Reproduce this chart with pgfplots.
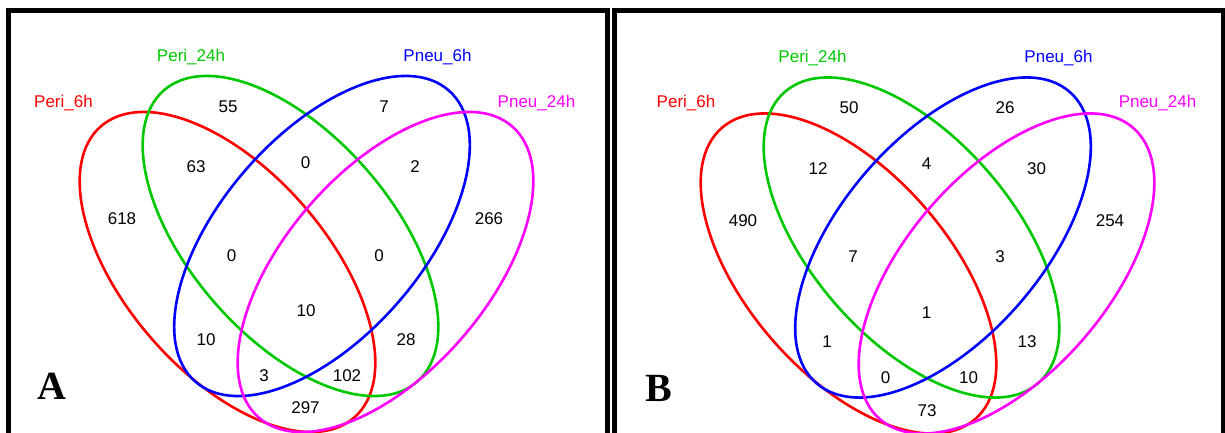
\documentclass[border=0pt]{standalone}
\usepackage{pgfplots}
\pgfplotsset{compat=1.18}
\usepackage{pgfplotstable}
\usepackage{fontspec}
\setmainfont{Liberation Sans}
\newfontfamily\panelfont{Liberation Serif}

\definecolor{setred}{RGB}{255,0,0}
\definecolor{setgreen}{RGB}{0,200,0}
\definecolor{setblue}{RGB}{0,0,255}
\definecolor{setmagenta}{RGB}{255,0,255}

% Region counts of panel A: label position (x, y from the top) and count
\pgfplotstableread{
x     y      n
122   219    618
228   107    55
384   107    7
489   219    266
196   167    63
305.5 163    0
415   167    2
231.5 256    0
379   256    0
306   311    10
206   339.5  10
406   339.5  28
264   376    3
347   376    102
305.5 407.5  297
}\countsA

% Region counts of panel B
\pgfplotstableread{
x     y      n
743   220.5  490
849   108    50
1005  108    26
1110  220.5  254
818   169    12
926.5 164    4
1036.5 169   30
853   257    7
1000  257    3
926.5 313    1
827   341.5  1
1027  341.5  13
885.5 378    0
968.5 378    10
927   410.5  73
}\countsB

% one set: centre x, centre y, rotation, colour
\newcommand\vennset[4]{%
  \draw[#4, line width=2.6pt, rotate around={#3:(axis cs:#1,#2)}]
    (axis cs:#1,#2) ellipse[x radius=193pt, y radius=101pt];}

\begin{document}
\begin{tikzpicture}
\useasboundingbox (0,0) rectangle (1225pt,433pt);
\begin{axis}[
  width=1225pt, height=433pt, scale only axis,
  xmin=0, xmax=1225, ymin=0, ymax=433, y dir=reverse,
  hide axis, clip=true,
  nodes near coords={\pgfplotspointmeta},
  every node near coord/.append style={anchor=center, font=\fontsize{17}{20}\selectfont, text=black},
]
% panel frames
\draw[black, line width=5pt, line join=miter] (axis cs:8.5,445) -- (axis cs:8.5,10.8) -- (axis cs:607.5,10.8) -- (axis cs:607.5,445);
\draw[black, line width=5pt, line join=miter] (axis cs:614.2,445) -- (axis cs:614.2,10.8) -- (axis cs:1223,10.8) -- (axis cs:1223,445);

% panel A sets
\vennset{227.5}{272}{-49}{setred}
\vennset{290.5}{236}{-49}{setgreen}
\vennset{322}{236}{49}{setblue}
\vennset{385.5}{272}{49}{setmagenta}

% panel B sets
\vennset{848.5}{273.5}{-49}{setred}
\vennset{911.5}{237.5}{-49}{setgreen}
\vennset{943}{237.5}{49}{setblue}
\vennset{1006.5}{273.5}{49}{setmagenta}

\addplot[draw=none, point meta=explicit symbolic] table[x=x, y=y, meta=n] {\countsA};
\addplot[draw=none, point meta=explicit symbolic] table[x=x, y=y, meta=n] {\countsB};

% set names
\begin{scope}[every node/.style={anchor=base, font=\fontsize{17}{20}\selectfont, inner sep=0pt}]
\node[text=setred]     at (axis cs:63.5,107)  {Peri\_6h};
\node[text=setgreen]   at (axis cs:191,61.5)  {Peri\_24h};
\node[text=setblue]    at (axis cs:437.5,61.5) {Pneu\_6h};
\node[text=setmagenta] at (axis cs:536.5,107) {Pneu\_24h};
\node[text=setred]     at (axis cs:686,108)   {Peri\_6h};
\node[text=setgreen]   at (axis cs:812.5,62.5) {Peri\_24h};
\node[text=setblue]    at (axis cs:1058.5,62.5) {Pneu\_6h};
\node[text=setmagenta] at (axis cs:1157.5,108) {Pneu\_24h};
\end{scope}

% panel letters
\node[font=\panelfont\bfseries\fontsize{40}{44}\selectfont, inner sep=0pt] at (axis cs:52,386.5) {A};
\node[font=\panelfont\bfseries\fontsize{40}{44}\selectfont, inner sep=0pt] at (axis cs:659,388) {B};
\end{axis}
\end{tikzpicture}
\end{document}
